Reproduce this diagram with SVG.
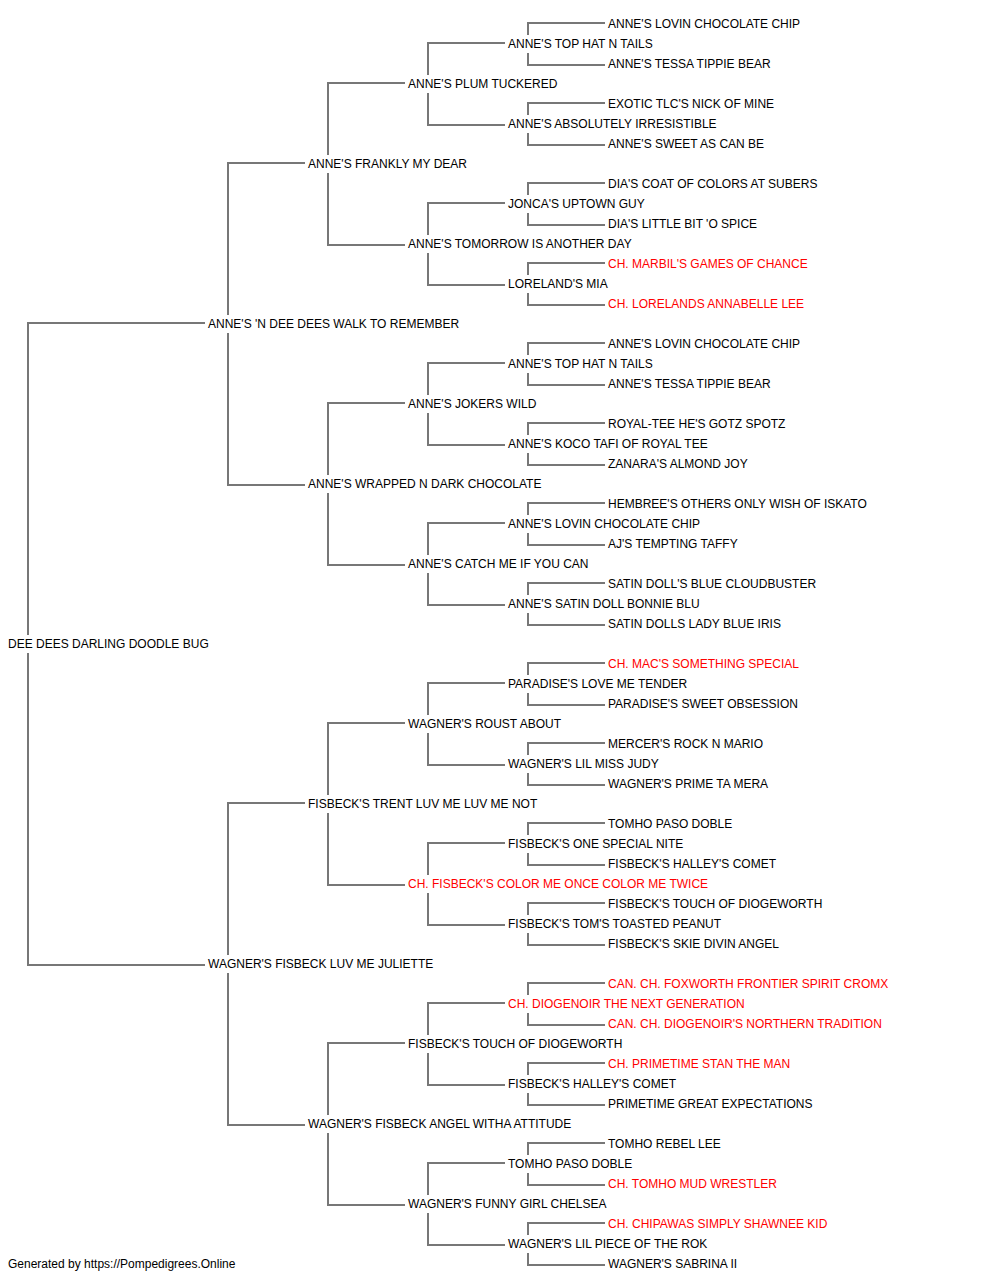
<svg xmlns="http://www.w3.org/2000/svg" width="1000" height="1280" viewBox="0 0 1000 1280">
<style>
text{font-family:"Liberation Sans",Arial,sans-serif;font-size:12px;fill:#000}
text.ch{fill:#ff0000}
#connectors path{fill:none;stroke:#777;stroke-width:2}
</style>
<rect width="1000" height="1280" fill="#fff"/>
<g id="connectors">
<path d="M28,635 V323 H205"/><path d="M28,653 V965 H205"/>
<path d="M228,315 V163 H305"/><path d="M228,333 V485 H305"/>
<path d="M228,955 V803 H305"/><path d="M228,973 V1125 H305"/>
<path d="M328,155 V83 H405"/><path d="M328,173 V245 H405"/>
<path d="M328,475 V403 H405"/><path d="M328,493 V565 H405"/>
<path d="M328,795 V723 H405"/><path d="M328,813 V885 H405"/>
<path d="M328,1115 V1043 H405"/><path d="M328,1133 V1205 H405"/>
<path d="M428,75 V43 H505"/><path d="M428,93 V125 H505"/>
<path d="M428,235 V203 H505"/><path d="M428,253 V285 H505"/>
<path d="M428,395 V363 H505"/><path d="M428,413 V445 H505"/>
<path d="M428,555 V523 H505"/><path d="M428,573 V605 H505"/>
<path d="M428,715 V683 H505"/><path d="M428,733 V765 H505"/>
<path d="M428,875 V843 H505"/><path d="M428,893 V925 H505"/>
<path d="M428,1035 V1003 H505"/><path d="M428,1053 V1085 H505"/>
<path d="M428,1195 V1163 H505"/><path d="M428,1213 V1245 H505"/>
<path d="M528,35 V23 H605"/><path d="M528,53 V65 H605"/>
<path d="M528,115 V103 H605"/><path d="M528,133 V145 H605"/>
<path d="M528,195 V183 H605"/><path d="M528,213 V225 H605"/>
<path d="M528,275 V263 H605"/><path d="M528,293 V305 H605"/>
<path d="M528,355 V343 H605"/><path d="M528,373 V385 H605"/>
<path d="M528,435 V423 H605"/><path d="M528,453 V465 H605"/>
<path d="M528,515 V503 H605"/><path d="M528,533 V545 H605"/>
<path d="M528,595 V583 H605"/><path d="M528,613 V625 H605"/>
<path d="M528,675 V663 H605"/><path d="M528,693 V705 H605"/>
<path d="M528,755 V743 H605"/><path d="M528,773 V785 H605"/>
<path d="M528,835 V823 H605"/><path d="M528,853 V865 H605"/>
<path d="M528,915 V903 H605"/><path d="M528,933 V945 H605"/>
<path d="M528,995 V983 H605"/><path d="M528,1013 V1025 H605"/>
<path d="M528,1075 V1063 H605"/><path d="M528,1093 V1105 H605"/>
<path d="M528,1155 V1143 H605"/><path d="M528,1173 V1185 H605"/>
<path d="M528,1235 V1223 H605"/><path d="M528,1253 V1265 H605"/>
</g>
<g id="n0"><text x="8" y="648">DEE DEES DARLING DOODLE BUG</text></g>
<g id="n1"><text x="208" y="328">ANNE'S 'N DEE DEES WALK TO REMEMBER</text></g>
<g id="n2"><text x="208" y="968">WAGNER'S FISBECK LUV ME JULIETTE</text></g>
<g id="n3"><text x="308" y="168">ANNE'S FRANKLY MY DEAR</text></g>
<g id="n4"><text x="308" y="488">ANNE'S WRAPPED N DARK CHOCOLATE</text></g>
<g id="n5"><text x="308" y="808">FISBECK'S TRENT LUV ME LUV ME NOT</text></g>
<g id="n6"><text x="308" y="1128">WAGNER'S FISBECK ANGEL WITHA ATTITUDE</text></g>
<g id="n7"><text x="408" y="88">ANNE'S PLUM TUCKERED</text></g>
<g id="n8"><text x="408" y="248">ANNE'S TOMORROW IS ANOTHER DAY</text></g>
<g id="n9"><text x="408" y="408">ANNE'S JOKERS WILD</text></g>
<g id="n10"><text x="408" y="568">ANNE'S CATCH ME IF YOU CAN</text></g>
<g id="n11"><text x="408" y="728">WAGNER'S ROUST ABOUT</text></g>
<g id="n12"><text class="ch" x="408" y="888">CH. FISBECK'S COLOR ME ONCE COLOR ME TWICE</text></g>
<g id="n13"><text x="408" y="1048">FISBECK'S TOUCH OF DIOGEWORTH</text></g>
<g id="n14"><text x="408" y="1208">WAGNER'S FUNNY GIRL CHELSEA</text></g>
<g id="n15"><text x="508" y="48">ANNE'S TOP HAT N TAILS</text></g>
<g id="n16"><text x="508" y="128">ANNE'S ABSOLUTELY IRRESISTIBLE</text></g>
<g id="n17"><text x="508" y="208">JONCA'S UPTOWN GUY</text></g>
<g id="n18"><text x="508" y="288">LORELAND'S MIA</text></g>
<g id="n19"><text x="508" y="368">ANNE'S TOP HAT N TAILS</text></g>
<g id="n20"><text x="508" y="448">ANNE'S KOCO TAFI OF ROYAL TEE</text></g>
<g id="n21"><text x="508" y="528">ANNE'S LOVIN CHOCOLATE CHIP</text></g>
<g id="n22"><text x="508" y="608">ANNE'S SATIN DOLL BONNIE BLU</text></g>
<g id="n23"><text x="508" y="688">PARADISE'S LOVE ME TENDER</text></g>
<g id="n24"><text x="508" y="768">WAGNER'S LIL MISS JUDY</text></g>
<g id="n25"><text x="508" y="848">FISBECK'S ONE SPECIAL NITE</text></g>
<g id="n26"><text x="508" y="928">FISBECK'S TOM'S TOASTED PEANUT</text></g>
<g id="n27"><text class="ch" x="508" y="1008">CH. DIOGENOIR THE NEXT GENERATION</text></g>
<g id="n28"><text x="508" y="1088">FISBECK'S HALLEY'S COMET</text></g>
<g id="n29"><text x="508" y="1168">TOMHO PASO DOBLE</text></g>
<g id="n30"><text x="508" y="1248">WAGNER'S LIL PIECE OF THE ROK</text></g>
<g id="n31"><text x="608" y="28">ANNE'S LOVIN CHOCOLATE CHIP</text></g>
<g id="n32"><text x="608" y="68">ANNE'S TESSA TIPPIE BEAR</text></g>
<g id="n33"><text x="608" y="108">EXOTIC TLC'S NICK OF MINE</text></g>
<g id="n34"><text x="608" y="148">ANNE'S SWEET AS CAN BE</text></g>
<g id="n35"><text x="608" y="188">DIA'S COAT OF COLORS AT SUBERS</text></g>
<g id="n36"><text x="608" y="228">DIA'S LITTLE BIT 'O SPICE</text></g>
<g id="n37"><text class="ch" x="608" y="268">CH. MARBIL'S GAMES OF CHANCE</text></g>
<g id="n38"><text class="ch" x="608" y="308">CH. LORELANDS ANNABELLE LEE</text></g>
<g id="n39"><text x="608" y="348">ANNE'S LOVIN CHOCOLATE CHIP</text></g>
<g id="n40"><text x="608" y="388">ANNE'S TESSA TIPPIE BEAR</text></g>
<g id="n41"><text x="608" y="428">ROYAL-TEE HE'S GOTZ SPOTZ</text></g>
<g id="n42"><text x="608" y="468">ZANARA'S ALMOND JOY</text></g>
<g id="n43"><text x="608" y="508">HEMBREE'S OTHERS ONLY WISH OF ISKATO</text></g>
<g id="n44"><text x="608" y="548">AJ'S TEMPTING TAFFY</text></g>
<g id="n45"><text x="608" y="588">SATIN DOLL'S BLUE CLOUDBUSTER</text></g>
<g id="n46"><text x="608" y="628">SATIN DOLLS LADY BLUE IRIS</text></g>
<g id="n47"><text class="ch" x="608" y="668">CH. MAC'S SOMETHING SPECIAL</text></g>
<g id="n48"><text x="608" y="708">PARADISE'S SWEET OBSESSION</text></g>
<g id="n49"><text x="608" y="748">MERCER'S ROCK N MARIO</text></g>
<g id="n50"><text x="608" y="788">WAGNER'S PRIME TA MERA</text></g>
<g id="n51"><text x="608" y="828">TOMHO PASO DOBLE</text></g>
<g id="n52"><text x="608" y="868">FISBECK'S HALLEY'S COMET</text></g>
<g id="n53"><text x="608" y="908">FISBECK'S TOUCH OF DIOGEWORTH</text></g>
<g id="n54"><text x="608" y="948">FISBECK'S SKIE DIVIN ANGEL</text></g>
<g id="n55"><text class="ch" x="608" y="988">CAN. CH. FOXWORTH FRONTIER SPIRIT CROMX</text></g>
<g id="n56"><text class="ch" x="608" y="1028">CAN. CH. DIOGENOIR'S NORTHERN TRADITION</text></g>
<g id="n57"><text class="ch" x="608" y="1068">CH. PRIMETIME STAN THE MAN</text></g>
<g id="n58"><text x="608" y="1108">PRIMETIME GREAT EXPECTATIONS</text></g>
<g id="n59"><text x="608" y="1148">TOMHO REBEL LEE</text></g>
<g id="n60"><text class="ch" x="608" y="1188">CH. TOMHO MUD WRESTLER</text></g>
<g id="n61"><text class="ch" x="608" y="1228">CH. CHIPAWAS SIMPLY SHAWNEE KID</text></g>
<g id="n62"><text x="608" y="1268">WAGNER'S SABRINA II</text></g>
<text x="8" y="1268">Generated by https://Pompedigrees.Online</text>
</svg>
